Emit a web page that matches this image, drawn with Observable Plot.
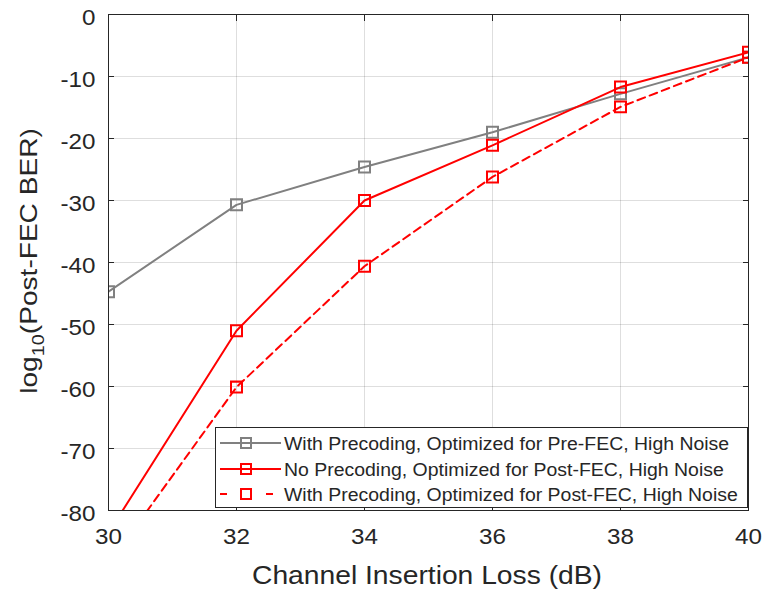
<!DOCTYPE html>
<html>
<head>
<meta charset="utf-8">
<script src="https://cdn.jsdelivr.net/npm/d3@7"></script>
<script src="https://cdn.jsdelivr.net/npm/@observablehq/plot@0.6"></script>
<style>
  body { margin: 0; background: #fff; }
  #wrap { width: 763px; height: 591px; }
</style>
</head>
<body>
<div id="wrap"></div>
<script>
const loss = [30, 32, 34, 36, 38, 40];
const preFEC = [-44.7, -30.7, -24.6, -19.0, -12.8, -6.9];
const noPrecod = [-83.6, -51.0, -30.0, -21.1, -11.7, -6.1];
const withPrecod = [-88.7, -60.1, -40.6, -26.2, -14.9, -6.9];
const seriesNames = [
  "With Precoding, Optimized for Pre-FEC, High Noise",
  "No Precoding, Optimized for Post-FEC, High Noise",
  "With Precoding, Optimized for Post-FEC, High Noise"
];
const xTicks = [30, 32, 34, 36, 38, 40];
const yTicks = [0, -10, -20, -30, -40, -50, -60, -70, -80];

const styles = [
  {color: "#808080", dash: null},
  {color: "#ff0000", dash: null},
  {color: "#ff0000", dash: "8,5"}
];
const allSeries = [preFEC, noPrecod, withPrecod];
const data = allSeries.flatMap((vals, si) => loss.map((x, i) => ({x, y: vals[i], s: si})));

const FONT = "'Liberation Sans', Arial, sans-serif";
const marks = [
  Plot.gridX(xTicks, {stroke: "#000", strokeOpacity: 0.13}),
  Plot.gridY(yTicks, {stroke: "#000", strokeOpacity: 0.13}),
  Plot.axisX(xTicks, {anchor: "bottom", tickSize: -6, tickFormat: () => "", stroke: "#262626"}),
  Plot.axisX(xTicks, {anchor: "top", tickSize: -6, tickFormat: () => "", stroke: "#262626", label: null}),
  Plot.axisY(yTicks, {anchor: "left", tickSize: -6, tickFormat: () => "", stroke: "#262626"}),
  Plot.axisY(yTicks, {anchor: "right", tickSize: -6, tickFormat: () => "", stroke: "#262626", label: null}),
  Plot.axisX(xTicks, {anchor: "bottom", tickSize: 0, tickPadding: 18, fontSize: 22, fill: "#262626", label: null, tickFormat: d => String(d), className: "ticklab"}),
  Plot.axisY(yTicks, {anchor: "left", tickSize: 0, tickPadding: 13, fontSize: 22, fill: "#262626", label: null, tickFormat: d => String(d), dy: 3, className: "ticklab"}),
];
allSeries.forEach((vals, si) => {
  const d = data.filter(p => p.s === si);
  marks.push(Plot.line(d, {x: "x", y: "y", stroke: styles[si].color, strokeWidth: 2,
    strokeDasharray: styles[si].dash, clip: true}));
  marks.push(Plot.dot(d, {x: "x", y: "y", symbol: "square", r: 6.2, fill: "none",
    stroke: styles[si].color, strokeWidth: 2, clip: true}));
});
marks.push(Plot.frame({stroke: "#262626", strokeWidth: 1}));

const chart = Plot.plot({
  width: 763,
  height: 591,
  marginLeft: 108,
  marginRight: 15,
  marginTop: 14,
  marginBottom: 81,
  style: {fontFamily: FONT, background: "#fff"},
  x: {domain: [30, 40], label: null},
  y: {domain: [-80, 0], label: null},
  marks
});

document.getElementById("wrap").appendChild(chart);
const svg = d3.select(chart);

// stretch helper (reference text is rendered slightly wide)
function stretch(sel, k) {
  sel.each(function() {
    const len = this.getComputedTextLength();
    if (len > 0) d3.select(this).attr("textLength", len * k).attr("lengthAdjust", "spacingAndGlyphs");
  });
}
stretch(svg.selectAll("g.ticklab text"), 1.1);

const xt = svg.append("text")
  .attr("x", 427).attr("y", 584)
  .attr("text-anchor", "middle")
  .attr("font-family", FONT)
  .attr("font-size", 25).attr("fill", "#262626")
  .text("Channel Insertion Loss (dB)");
xt.attr("textLength", 350).attr("lengthAdjust", "spacingAndGlyphs");

const yl = svg.append("text")
  .attr("transform", "translate(37,261) rotate(-90)")
  .attr("text-anchor", "middle")
  .attr("font-family", FONT)
  .attr("font-size", 24).attr("fill", "#262626");
yl.append("tspan").text("log");
yl.append("tspan").attr("font-size", 17).attr("dy", 7).text("10");
yl.append("tspan").attr("dy", -7).text("(Post-FEC BER)");
stretch(yl, 1.17);

// legend (chrome)
const lg = svg.append("g").attr("font-family", FONT).attr("text-anchor", "start");
lg.append("rect").attr("x", 215.5).attr("y", 427.5).attr("width", 532).attr("height", 80)
  .attr("fill", "#fff").attr("stroke", "#262626").attr("stroke-width", 1);
const rowY = [443, 469, 494];
seriesNames.forEach((name, si) => {
  const st = styles[si];
  const g = lg.append("g").attr("transform", `translate(0,${rowY[si]})`);
  if (st.dash) {
    g.append("line").attr("x1", 220).attr("x2", 227).attr("y1", 0).attr("y2", 0).attr("stroke", st.color).attr("stroke-width", 2);
    g.append("line").attr("x1", 266).attr("x2", 273).attr("y1", 0).attr("y2", 0).attr("stroke", st.color).attr("stroke-width", 2);
  } else {
    g.append("line").attr("x1", 220).attr("x2", 281).attr("y1", 0).attr("y2", 0).attr("stroke", st.color).attr("stroke-width", 2);
  }
  g.append("rect").attr("x", 241).attr("y", -5).attr("width", 10).attr("height", 10)
    .attr("fill", "none").attr("stroke", st.color).attr("stroke-width", 2);
  const t = g.append("text").attr("x", 284).attr("y", 6.5).attr("text-anchor", "start")
    .attr("font-size", 18).attr("fill", "#262626").text(name);
  stretch(t, 1.08);
});
</script>
</body>
</html>
